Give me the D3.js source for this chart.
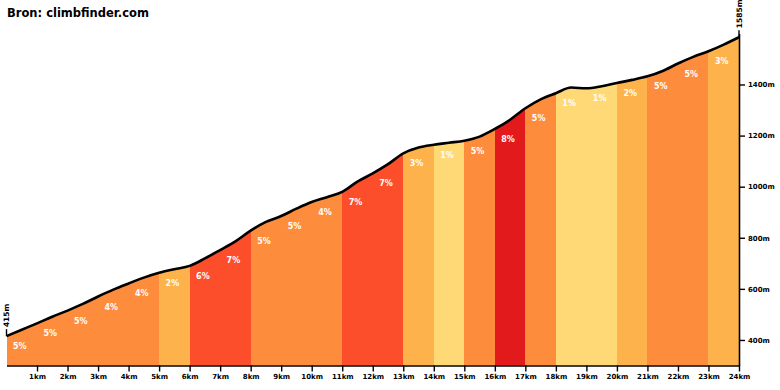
<!DOCTYPE html>
<html>
<head>
<meta charset="utf-8">
<script src="https://cdn.jsdelivr.net/npm/d3@7"></script>
<style>
  body { margin: 0; background: #fff; }
  svg { display: block; font-family: "DejaVu Sans", sans-serif; }
</style>
</head>
<body>
<svg></svg>
<script>
const width = 780;
const height = 390;

// profile points (km, metres)
const distances = [0, 0.5, 1, 1.5, 2, 2.5, 3, 3.5, 4, 4.5, 5, 5.5, 6, 6.5, 7, 7.5, 8, 8.5, 9, 9.5, 10, 10.5, 11, 11.5, 12,
    12.5, 13, 13.5, 14, 14.5, 15, 15.5, 16, 16.5, 17, 17.5, 18, 18.5, 19, 19.5, 20, 20.5, 21, 21.5, 22, 22.5, 23, 23.5, 24];
const elevations = [415, 440, 465, 491, 515, 541, 570, 597, 621, 644, 663, 677, 690, 719, 752, 786, 828, 862, 885, 914, 940, 959, 980, 1020, 1052,
    1088, 1130, 1153, 1164, 1172, 1180, 1196, 1226, 1262, 1307, 1342, 1366, 1388, 1385, 1393, 1406, 1418, 1432, 1453, 1482, 1508, 1530, 1556, 1585];

// gradient per km
const gradients = [5, 5, 5, 4, 4, 2, 6, 7, 5, 5, 4, 7, 7, 3, 1, 5, 8, 5, 1, 1, 2, 5, 5, 3];

const kmTicks = [1, 2, 3, 4, 5, 6, 7, 8, 9, 10, 11, 12, 13, 14, 15, 16, 17, 18, 19, 20, 21, 22, 23, 24];
const heightTicks = [400, 600, 800, 1000, 1200, 1400];

const points = distances.map((d, i) => ({ km: d, ele: elevations[i] }));

const svg = d3.select("svg")
    .attr("width", width)
    .attr("height", height);

const x = d3.scaleLinear().domain([0, 24]).range([6.5, 739]);
const y = d3.scaleLinear().domain([300, 1600]).range([365.5, 33.4]);

const color = d3.scaleThreshold()
    .domain([2, 4, 6, 8])
    .range(["#fed976", "#feb24c", "#fd8d3c", "#fc4e2a", "#e31a1c"]);

const area = d3.area()
    .x(d => x(d.km))
    .y0(y(300))
    .y1(d => y(d.ele))
    .curve(d3.curveMonotoneX);

const line = d3.line()
    .x(d => x(d.km))
    .y(d => y(d.ele))
    .curve(d3.curveMonotoneX);

svg.append("clipPath")
    .attr("id", "profile-clip")
    .append("path")
    .attr("d", area(points));

// one coloured band per km
svg.append("g")
    .attr("clip-path", "url(#profile-clip)")
    .selectAll("rect")
    .data(gradients)
    .enter()
    .append("rect")
    .attr("x", (d, i) => Math.round(x(i)))
    .attr("width", (d, i) => Math.round(x(i + 1)) - Math.round(x(i)) + 1)
    .attr("y", y(1600))
    .attr("height", y(300) - y(1600))
    .attr("shape-rendering", "crispEdges")
    .attr("fill", d => color(d));

svg.append("path")
    .attr("d", line(points))
    .attr("fill", "none")
    .attr("stroke", "#000")
    .attr("stroke-width", 2.6)
    .attr("stroke-linejoin", "round");

// gradient labels
svg.append("g")
    .selectAll("text")
    .data(gradients)
    .enter()
    .append("text")
    .attr("x", (d, i) => x(i + 0.5) - 2)
    .attr("y", (d, i) => y(elevations[distances.indexOf(i)]) + 13)
    .attr("text-anchor", "middle")
    .attr("fill", "#fff")
    .attr("font-size", 8)
    .attr("font-weight", "bold")
    .text(d => d + "%");

const xAxis = d3.axisBottom(x)
    .tickValues(kmTicks)
    .tickSize(6)
    .tickSizeOuter(0)
    .tickPadding(3)
    .tickFormat(d => d + "km");

const yAxis = d3.axisRight(y)
    .tickValues(heightTicks)
    .tickSize(6)
    .tickSizeOuter(0)
    .tickPadding(3)
    .tickFormat(d => d + "m");

const gx = svg.append("g")
    .attr("transform", `translate(0, ${y(300)})`)
    .call(xAxis);

const gy = svg.append("g")
    .attr("transform", `translate(${x(24)}, 0)`)
    .call(yAxis);

[gx, gy].forEach(g => {
    g.select(".domain").attr("stroke", "#000").attr("stroke-width", 1.6);
    g.selectAll(".tick line").attr("stroke", "#000").attr("stroke-width", 1.4);
    g.selectAll(".tick text")
        .attr("fill", "#000")
        .attr("font-size", 7)
        .attr("font-weight", "bold")
        .attr("font-family", "DejaVu Sans, sans-serif");
});

// start and end heights
const ends = [points[0], points[points.length - 1]];

svg.selectAll(".end-tick")
    .data(ends)
    .enter()
    .append("line")
    .attr("class", "end-tick")
    .attr("x1", d => x(d.km))
    .attr("x2", d => x(d.km))
    .attr("y1", d => y(d.ele))
    .attr("y2", d => y(d.ele) - 7)
    .attr("stroke", "#000")
    .attr("stroke-width", 1.4);

svg.selectAll(".end-label")
    .data(ends)
    .enter()
    .append("text")
    .attr("class", "end-label")
    .attr("transform", d => `translate(${x(d.km)}, ${y(d.ele) - 9}) rotate(-90)`)
    .attr("dy", "0.35em")
    .attr("font-size", 7.5)
    .attr("font-weight", "bold")
    .text(d => d.ele + "m");

svg.append("text")
    .attr("x", 7)
    .attr("y", 17)
    .attr("font-size", 11.5)
    .attr("font-weight", "bold")
    .text("Bron: climbfinder.com");
</script>
</body>
</html>
